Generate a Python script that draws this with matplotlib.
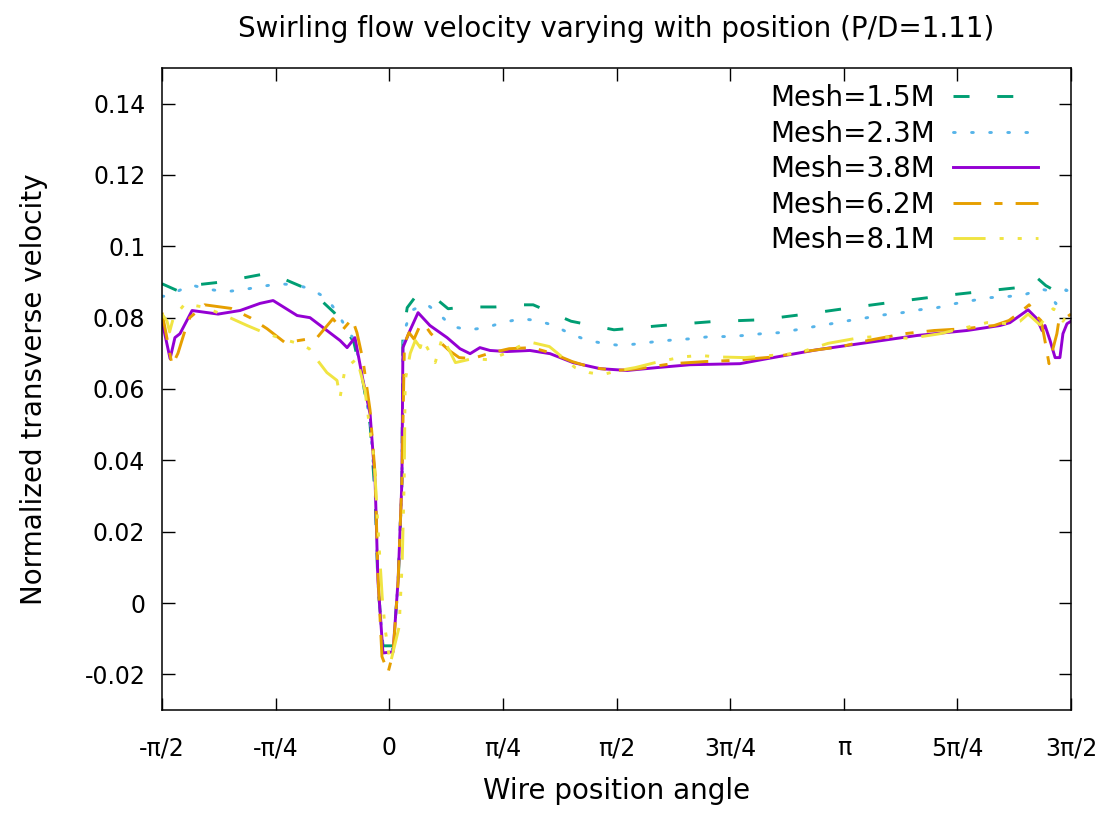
import numpy as np
import matplotlib
matplotlib.use("Agg")
from matplotlib import pyplot as plt

# wire position angle in degrees, normalized transverse velocity
deg_15 = [-90, -82.1, -78.9, -66.3, -49.2, -45.6, -33.7, -29.8, -21.8, -17.5, -14, -10.4, -7.6, -5.6,
          -4.5, -2.5, 1.5, 3.5, 5.0, 5.4, 7.1, 10.7, 19.4, 23.3, 30, 42, 52, 57, 72, 89, 108, 128,
          147, 165, 183, 201, 220, 238, 250, 256, 260, 265, 270]
vel_15 = [0.0895, 0.087, 0.089, 0.090, 0.0923, 0.092, 0.0884, 0.0867, 0.0814, 0.0772, 0.073, 0.062, 0.05, 0.03,
          0.005, -0.012, -0.012, 0.005, 0.034, 0.075, 0.0828, 0.0862, 0.0848, 0.0825, 0.083, 0.083, 0.0836, 0.0836, 0.079, 0.0766, 0.0778, 0.0789,
          0.0794, 0.081, 0.0828, 0.0845, 0.0862, 0.0876, 0.0885, 0.0915, 0.089, 0.087, 0.0903]

deg_23 = [-90, -88, -78.5, -72.3, -64.6, -58.3, -50.8, -44, -36.9, -30.9, -24.6, -20.6, -17, -13.6, -10.4,
          -7.6, -5.6, -4.5, -2.5, 1.5, 3.5, 5.0, 5.4, 6.7, 8.7, 14.6, 19.7, 24.9, 31.6, 38.3, 44.7, 52.2,
          58.5, 65.3, 71.6, 77.9, 85.1, 91.8, 98.9, 105.6, 113.1, 119.9, 127, 133.7, 140.4, 147.5, 154.6,
          161.3, 168.4, 175.1, 182.2, 189.3, 196, 203.2, 209.9, 217, 223.8, 230.9, 237.6, 244.7, 251.4,
          258.1, 260.9, 264, 268, 270]
vel_23 = [0.086, 0.086, 0.0892, 0.088, 0.0873, 0.0878, 0.0887, 0.0895, 0.0892, 0.088, 0.0853, 0.0814, 0.077, 0.0735, 0.062,
          0.051, 0.032, 0.006, -0.013, -0.013, 0.006, 0.034, 0.072, 0.0778, 0.082, 0.0839, 0.081, 0.0775, 0.0766, 0.0772, 0.0786, 0.0797,
          0.0792, 0.0778, 0.0755, 0.0738, 0.0727, 0.0722, 0.0727, 0.0733, 0.0738, 0.0741, 0.0747, 0.0747, 0.075, 0.0755, 0.0758,
          0.0766, 0.0775, 0.0783, 0.0792, 0.080, 0.0808, 0.0814, 0.0822, 0.0828, 0.0839, 0.0848, 0.0856, 0.0859, 0.0864,
          0.088, 0.0876, 0.0839, 0.0878, 0.087]

deg_38 = [-90, -86.8, -84.9, -82.9, -78.1, -67.8, -59.1, -51.2, -46.0, -36.5, -31.4, -24.7, -19.5, -16.7,
          -13.6, -10.4, -7.6, -5.6, -4.5, -2.5, 1.5, 3.5, 5.0, 5.4, 8.2, 11.4, 16.1, 22.9, 28.0, 32.0,
          35.9, 39.9, 46.6, 55.7, 63.7, 72.8, 83.5, 94.2, 106.0, 119.1, 138.9, 149.6, 169.4, 189.2, 209.0,
          228.8, 241.9, 245.8, 253.0, 256.5, 258.5, 259.7, 261.7, 263.7, 265.6, 266.8, 268.4, 270]
vel_38 = [0.079, 0.0685, 0.0744, 0.0755, 0.082, 0.081, 0.082, 0.084, 0.0848, 0.0806, 0.080, 0.0764, 0.0736, 0.0716,
          0.0744, 0.0624, 0.053, 0.034, 0.0064, -0.014, -0.0137, 0.0064, 0.034, 0.0716, 0.0764, 0.0814, 0.0778, 0.0744, 0.0713, 0.0699,
          0.0716, 0.0708, 0.0705, 0.0708, 0.0699, 0.0674, 0.0657, 0.0652, 0.066, 0.0668, 0.0671, 0.0685, 0.071, 0.073, 0.075,
          0.0764, 0.0778, 0.0786, 0.0822, 0.0797, 0.0764, 0.0778, 0.0736, 0.0688, 0.0688, 0.0755, 0.0783, 0.079]

deg_62 = [-90, -88.8, -86, -83.7, -80.9, -79, -73.1, -62.7, -55.1, -48.4, -41.3, -28.6, -22.3, -18.7,
          -14.7, -12.8, -10.4, -7.6, -5.6, -4.5, -2.9, -0.5, 1.5, 3.5, 5.0, 6.0, 7.8, 9.8, 11.8, 13.7,
          16.5, 23.7, 27.7, 32.8, 39.6, 47.5, 56.6, 64.5, 72.4, 80.3, 89.8, 98.9, 112, 125.4, 135.7,
          152.5, 164.4, 179, 189.6, 203.9, 215.8, 227.7, 239.6, 245.4, 250.2, 253.4, 256.1, 258.1, 259.3,
          261.3, 264.4, 265.2, 268, 270]
vel_62 = [0.0814, 0.077, 0.0666, 0.070, 0.0764, 0.080, 0.0836, 0.0826, 0.080, 0.0769, 0.073, 0.0744, 0.0797, 0.0764,
          0.0797, 0.0758, 0.068, 0.054, 0.036, 0.008, -0.015, -0.0195, -0.014, 0.006, 0.034, 0.0727, 0.0758, 0.074, 0.0772, 0.0783,
          0.0755, 0.0708, 0.0688, 0.0685, 0.070, 0.0713, 0.0716, 0.070, 0.0677, 0.066, 0.0652, 0.0657, 0.0671, 0.0677, 0.068,
          0.069, 0.0705, 0.0719, 0.0736, 0.0755, 0.0764, 0.0769, 0.0778, 0.0792, 0.0817, 0.0836, 0.0806, 0.0792, 0.075,
          0.0671, 0.0755, 0.0792, 0.080, 0.081]

deg_81 = [-90, -88, -87, -85.5, -80.9, -73.9, -66.3, -56.3, -49.6, -41.3, -35.7, -31.7, -28.6, -24.7,
          -20.7, -19.5, -17.5, -12.8, -10.8, -9.6, -7.6, -6.0, -4.0, -2.8, -1.6, 0.4, 3.9, 5.1, 5.9, 6.3,
          8.3, 10.3, 12.3, 13.1, 15.0, 18.2, 21, 23.8, 26.2, 32.9, 39.6, 46, 52.7, 56.7, 63.4, 73.6, 79.2,
          84.3, 91, 97.4, 105.3, 116, 123.1, 129.9, 140.9, 161.5, 173.8, 186.4, 193.2, 206.2, 218.1, 236.7,
          245.8, 249.8, 253, 257.7, 262.9, 265.6, 266.8, 268.4, 270]
vel_81 = [0.081, 0.079, 0.076, 0.080, 0.0839, 0.083, 0.081, 0.0778, 0.0758, 0.0738, 0.0727, 0.0713, 0.0682, 0.0646,
          0.0624, 0.0576, 0.0657, 0.0685, 0.063, 0.0596, 0.048, 0.040, 0.0157, 0.0017, -0.0075, -0.017, -0.0067, 0.011, 0.034, 0.0624,
          0.070, 0.0736, 0.0716, 0.074, 0.0716, 0.0674, 0.0744, 0.0708, 0.0674, 0.0685, 0.0682, 0.070, 0.0724, 0.073, 0.0719, 0.066, 0.0646,
          0.064, 0.0652, 0.066, 0.0674, 0.069, 0.0694, 0.069, 0.0688, 0.070, 0.0728, 0.0744, 0.0747, 0.0742, 0.0755, 0.0786,
          0.0783, 0.079, 0.081, 0.078, 0.0825, 0.0814, 0.079, 0.0806, 0.082]

labels = ['Mesh=1.5M', 'Mesh=2.3M', 'Mesh=3.8M', 'Mesh=6.2M', 'Mesh=8.1M']
colors = ['#009e73', '#56b4e9', '#9400d3', '#e69f00', '#f0e442']
styles = [(0, (5.5, 9.5)), (0, (0.6, 5.6)), '-', (0, (9.5, 4.5, 2.8, 4.5)),
          (0, (11, 4.8, 1.4, 4.8, 1.4, 4.8, 1.4, 4.8))]
series = [(deg_15, vel_15), (deg_23, vel_23), (deg_38, vel_38), (deg_62, vel_62), (deg_81, vel_81)]

tick_pos = [-90, -45, 0, 45, 90, 135, 180, 225, 270]
tick_lab = ['-π/2', '-π/4', '0', 'π/4', 'π/2', '3π/4', 'π', '5π/4', '3π/2']
y_ticks = [-0.02, 0, 0.02, 0.04, 0.06, 0.08, 0.1, 0.12, 0.14]
y_lab = ['-0.02', '0', '0.02', '0.04', '0.06', '0.08', '0.1', '0.12', '0.14']

fs = 20
fig = plt.figure(figsize=(11.03, 8.15), dpi=100)
ax = fig.add_axes([0.1469, 0.1288, 0.9710 - 0.1469, 0.9166 - 0.1288])

for (d, v), lab, c, ls in zip(series, labels, colors, styles):
    ax.plot(np.deg2rad(d), v, color=c, linestyle=ls, lw=2.1, label=lab,
            dash_capstyle='round' if lab == 'Mesh=2.3M' else 'butt')

ax.set_xlim(np.deg2rad(-90), np.deg2rad(270))
ax.set_ylim(-0.03, 0.15)
ax.set_xticks(np.deg2rad(tick_pos))
ax.set_xticklabels(tick_lab)
ax.set_yticks(y_ticks)
ax.set_yticklabels(y_lab)
ax.tick_params(direction='in', length=9, width=1, top=True, right=True, labelsize=17)
ax.tick_params(axis='x', pad=19)
ax.tick_params(axis='y', pad=12)
for s in ax.spines.values():
    s.set_linewidth(1.1)

ax.set_xlabel('Wire position angle', fontsize=fs, labelpad=12)
ax.set_ylabel('Normalized transverse velocity', fontsize=fs, labelpad=26)
ax.set_title('Swirling flow velocity varying with position (P/D=1.11)', fontsize=fs, pad=22)

ax.legend(loc='upper right', bbox_to_anchor=(0.985, 1.005), frameon=False, markerfirst=False,
          fontsize=fs, handlelength=3.05, labelspacing=0.27, borderaxespad=0.3, handletextpad=0.65)

fig.savefig('out.png', dpi=100)
